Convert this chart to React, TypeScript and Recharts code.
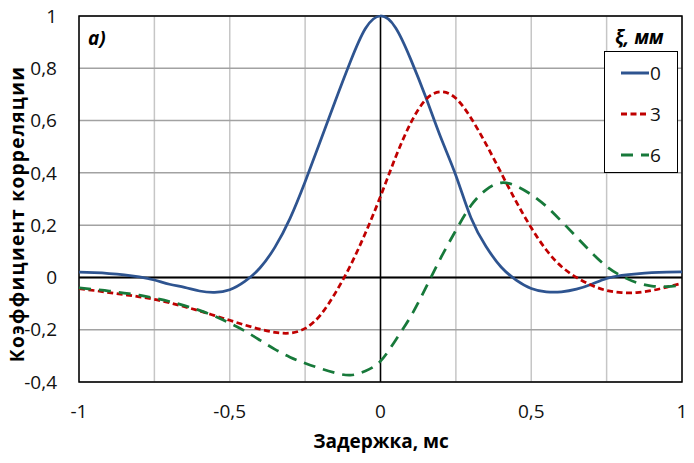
import React from "react";
import {
  LineChart,
  Line,
  XAxis,
  YAxis,
  CartesianGrid,
  ReferenceLine,
  ReferenceArea,
  Label,
} from "recharts";

const FONT = "'Open Sans', 'Noto Sans', sans-serif";

// delay, ms
const DELAYS = [
  -1, -0.95, -0.9, -0.85, -0.8, -0.75, -0.7, -0.65, -0.6, -0.55, -0.5, -0.45,
  -0.4, -0.35, -0.3, -0.25, -0.2, -0.15, -0.1, -0.05, 0, 0.05, 0.1, 0.15, 0.2,
  0.25, 0.3, 0.35, 0.4, 0.45, 0.5, 0.55, 0.6, 0.65, 0.7, 0.75, 0.8, 0.85, 0.9,
  0.95, 1,
];

// ξ = 0 mm
const XI_0 = [
  0.02, 0.018, 0.015, 0.01, 0.002, -0.01, -0.026, -0.038, -0.052, -0.057,
  -0.047, -0.015, 0.036, 0.116, 0.226, 0.366, 0.52, 0.675, 0.825, 0.952, 1,
  0.955, 0.835, 0.69, 0.535, 0.39, 0.228, 0.118, 0.04, -0.01, -0.042, -0.055,
  -0.055, -0.045, -0.026, -0.004, 0.008, 0.014, 0.018, 0.02, 0.021,
];

// ξ = 3 mm
const XI_3 = [
  -0.043, -0.05, -0.058, -0.066, -0.074, -0.084, -0.097, -0.112, -0.128,
  -0.146, -0.164, -0.182, -0.198, -0.21, -0.213, -0.195, -0.145, -0.06, 0.045,
  0.17, 0.31, 0.46, 0.59, 0.68, 0.71, 0.685, 0.61, 0.51, 0.4, 0.29, 0.19,
  0.105, 0.042, 0.0, -0.03, -0.05, -0.058, -0.058, -0.05, -0.037, -0.022,
];

// ξ = 6 mm
const XI_6 = [
  -0.04, -0.046, -0.052, -0.06, -0.068, -0.079, -0.092, -0.108, -0.126, -0.148,
  -0.175, -0.205, -0.24, -0.275, -0.305, -0.328, -0.348, -0.365, -0.374,
  -0.358, -0.32, -0.24, -0.15, -0.04, 0.075, 0.18, 0.275, 0.335, 0.362, 0.35,
  0.317, 0.272, 0.215, 0.155, 0.095, 0.042, 0.005, -0.02, -0.033, -0.035,
  -0.03,
];

const X_TICKS = [-1, -0.75, -0.5, -0.25, 0, 0.25, 0.5, 0.75, 1];
const Y_TICKS = [-0.4, -0.2, 0, 0.2, 0.4, 0.6, 0.8, 1];

const SERIES = [
  { key: "xi0", name: "0", color: "#2e5490", dash: undefined },
  { key: "xi3", name: "3", color: "#c00000", dash: "6 3.5" },
  { key: "xi6", name: "6", color: "#17793a", dash: "12 8" },
];

const data = DELAYS.map((t, i) => ({
  t,
  xi0: XI_0[i],
  xi3: XI_3[i],
  xi6: XI_6[i],
}));

const comma = (v: number) => String(v).replace(".", ",");

function LegendBox() {
  return (
    <div
      style={{
        position: "absolute",
        left: 604,
        top: 51,
        fontFamily: FONT,
      }}
    >
      <div
        style={{
          position: "absolute",
          left: 11,
          top: -26,
          fontSize: 19,
          lineHeight: "24px",
          fontWeight: 700,
          fontStyle: "italic",
          whiteSpace: "nowrap",
          color: "#000",
        }}
      >
        ξ, мм
      </div>
      <div
        style={{
          width: 74,
          height: 122,
          border: "1.5px solid #000",
          background: "#fff",
          boxSizing: "border-box",
        }}
      >
        {SERIES.map((s) => (
          <div
            key={s.key}
            style={{
              display: "flex",
              alignItems: "center",
              height: 41,
              paddingLeft: 16,
            }}
          >
            <svg width={28} height={6}>
              <line
                x1={0}
                y1={3}
                x2={28}
                y2={3}
                stroke={s.color}
                strokeWidth={3}
                strokeDasharray={s.dash}
              />
            </svg>
            <span style={{ fontSize: 19, color: "#111", marginLeft: 1 }}>
              {s.name}
            </span>
          </div>
        ))}
      </div>
    </div>
  );
}

export default function App() {
  return (
    <div
      style={{
        position: "absolute",
        left: 0,
        top: 0,
        width: 694,
        height: 463,
        background: "#fff",
      }}
    >
      <LineChart
        width={694}
        height={463}
        data={data}
        margin={{ top: 16, right: 12, left: 0, bottom: 0 }}
      >
        <CartesianGrid
          horizontal={false}
          vertical={true}
          stroke="#c6c6c6"
          strokeWidth={1.5}
        />
        <CartesianGrid
          horizontal={true}
          vertical={false}
          stroke="#a2a2a2"
          strokeWidth={1.5}
        />
        <XAxis
          dataKey="t"
          type="number"
          domain={[-1, 1]}
          ticks={X_TICKS}
          tickFormatter={(v: number) =>
            Math.abs(v * 2 - Math.round(v * 2)) < 1e-9 ? comma(v) : ""
          }
          tickLine={false}
          axisLine={false}
          tickSize={0}
          tickMargin={23}
          height={81}
          tick={{ fontSize: 19, fill: "#111", fontFamily: FONT }}
          interval={0}
        >
          <Label
            content={() => (
              <text
                x={381}
                y={448}
                textAnchor="middle"
                fontFamily={FONT}
                fontSize={19}
                fontWeight={700}
                fill="#000"
              >
                Задержка, мс
              </text>
            )}
          />
        </XAxis>
        <YAxis
          type="number"
          domain={[-0.4, 1]}
          ticks={Y_TICKS}
          tickFormatter={comma}
          tickLine={false}
          axisLine={false}
          tickSize={0}
          tickMargin={22}
          width={79}
          tick={{ fontSize: 19, fill: "#111", fontFamily: FONT }}
          interval={0}
        >
          <Label
            content={() => (
              <text
                x={24}
                y={214}
                textAnchor="middle"
                transform="rotate(-90 24 214)"
                fontFamily={FONT}
                fontSize={19}
                fontWeight={700}
                letterSpacing={1.3}
                fill="#000"
              >
                Коэффициент корреляции
              </text>
            )}
          />
        </YAxis>
        <ReferenceLine y={0} stroke="#000" strokeWidth={2} />
        <ReferenceLine x={0} stroke="#000" strokeWidth={1.5} />
        <ReferenceArea
          x1={-1}
          x2={1}
          y1={-0.4}
          y2={1}
          fill="none"
          stroke="#000"
          strokeWidth={1.5}
          strokeOpacity={1}
          fillOpacity={0}
        />
        {SERIES.map((s) => (
          <Line
            key={s.key}
            dataKey={s.key}
            name={s.name}
            type="natural"
            stroke={s.color}
            strokeWidth={2.75}
            strokeDasharray={s.dash}
            dot={false}
            activeDot={false}
            isAnimationActive={false}
          />
        ))}
        <text
          x={88}
          y={45}
          fontFamily={FONT}
          fontSize={19}
          fontWeight={700}
          fontStyle="italic"
          fill="#000"
        >
          а)
        </text>
      </LineChart>
      <LegendBox />
    </div>
  );
}
